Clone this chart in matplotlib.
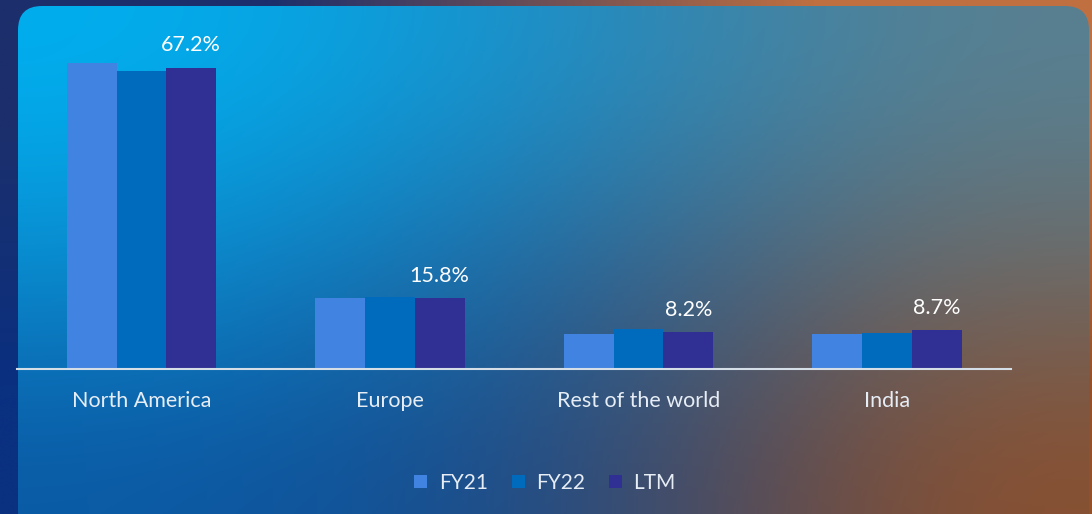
import numpy as np
import matplotlib
matplotlib.use("Agg")
import matplotlib.pyplot as plt
from matplotlib.patches import FancyBboxPatch, Patch

plt.rcParams['font.family'] = ['Lato', 'DejaVu Sans']

# data
regions = ["North America", "Europe", "Rest of the world", "India"]
series = ["FY21", "FY22", "LTM"]
fy21 = [68.3, 15.8, 7.8, 7.8]
fy22 = [66.5, 16.0, 8.9, 8.0]
ltm = [67.2, 15.8, 8.2, 8.7]
colors = ["#4183E0", "#006BBD", "#303094"]

W, H = 1092, 514
fig = plt.figure(figsize=(W / 100, H / 100), dpi=100)

# outer background gradient
bg = fig.add_axes([0, 0, 1, 1])
bg.set_axis_off()
outer = np.array([[[28, 47, 108], [192, 112, 64]],
                  [[10, 48, 128], [150, 80, 40]]]) / 255
bg.imshow(outer, extent=[0, W, H, 0], interpolation='bilinear', aspect='auto')

# card gradient
card = np.array([[[0, 176, 240], [26, 140, 200], [90, 128, 144]],
                 [[10, 140, 208], [31, 95, 154], [111, 106, 102]],
                 [[10, 90, 165], [26, 72, 136], [140, 80, 45]]]) / 255
im = bg.imshow(card, extent=[18, 1089, 535, 6], interpolation='bicubic', aspect='auto')
box = FancyBboxPatch((18, 6), 1071, 529, boxstyle="round,pad=0,rounding_size=24",
                     transform=bg.transData, facecolor='none', edgecolor='none')
bg.add_patch(box)
im.set_clip_path(box)
bg.set_xlim(0, W)
bg.set_ylim(H, 0)

# bar chart
ax = fig.add_axes([17.25 / W, 145 / H, 994 / W, 349.4 / H])
ax.patch.set_alpha(0)
x = np.arange(len(regions))
w = 0.2
for i, (vals, name) in enumerate(zip([fy21, fy22, ltm], series)):
    ax.bar(x + (i - 1) * w, vals, width=w, color=colors[i], label=name)

for xi, v in zip(x, ltm):
    ax.annotate(f"{v}%", (xi + w, v), xytext=(0, 9), textcoords='offset points',
                ha='center', va='bottom', color='white', fontsize=15.5)

ax.set_xlim(-0.5, 3.5)
ax.set_ylim(0, 78)
ax.set_yticks([])
ax.set_xticks(x)
ax.set_xticklabels(regions, fontsize=15.5, color='#e6edf5')
ax.tick_params(axis='x', length=0, pad=16)
for s in ['top', 'right', 'left']:
    ax.spines[s].set_visible(False)
ax.spines['bottom'].set_color('#d5dde6')
ax.spines['bottom'].set_linewidth(1.5)

handles = [Patch(facecolor=c, label=s) for c, s in zip(colors, series)]
fig.legend(handles=handles, loc='center', bbox_to_anchor=(545 / W, 1 - 483 / H), ncol=3,
           frameon=False, fontsize=15, labelcolor='#e6edf5', handlelength=0.62,
           handleheight=0.62, handletextpad=0.55, columnspacing=1.15)

fig.savefig("out.png", dpi=100)
